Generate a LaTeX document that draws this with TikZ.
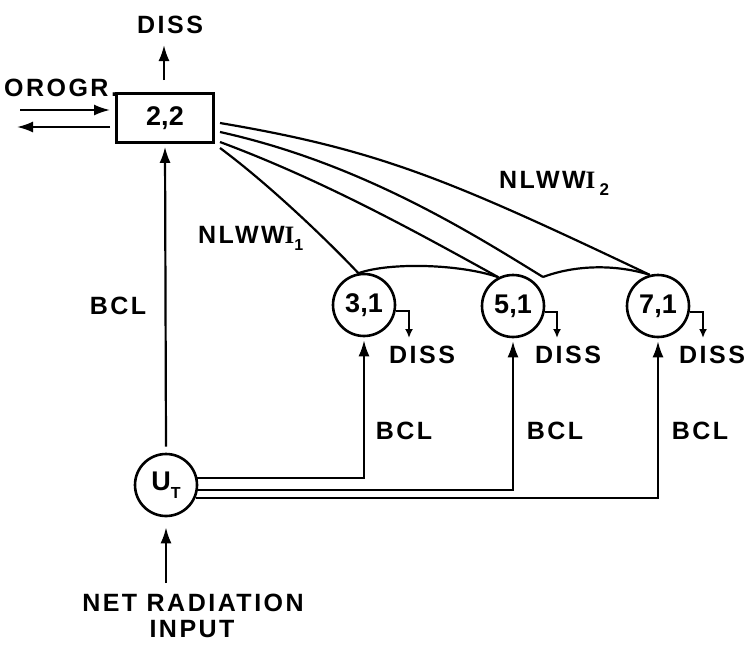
\documentclass[tikz,border=0pt]{standalone}
\usepackage{fontspec}
\setmainfont{Liberation Sans}
\newfontfamily\lbl[LetterSpace=10]{Liberation Sans}
\newfontfamily\lblI{Liberation Serif}
\usetikzlibrary{arrows.meta}
\begin{document}
\begin{tikzpicture}[x=1pt,y=-1pt,
  line width=2.2pt,
  big/.style={-{Latex[length=16pt,width=11pt]}},
  small/.style={-{Latex[length=9pt,width=8pt]}, line width=2pt},
  lab/.style={font=\lbl\bfseries\fontsize{25}{28}\selectfont, inner sep=0pt},
  num/.style={font=\bfseries\fontsize{27}{30}\selectfont, inner sep=0pt},
  circ/.style={circle, draw, minimum size=62pt, inner sep=0pt, line width=2.6pt},
]
\useasboundingbox (0,0) rectangle (746,646);
% nodes
\node[draw, line width=2.6pt, minimum width=97pt, minimum height=49pt, num] (b22) at (165,118) {2,2};
\node[circ, num] (c31) at (364,305) {3,1};
\node[circ, num] (c51) at (513,306) {5,1};
\node[circ, num] (c71) at (658,306) {7,1};
\node[circ, num] (ut) at (166,485) {U\raisebox{-0.3em}{\fontsize{16}{16}\selectfont T}};
% labels
\node[lab] (dtop) at (170,25) {DISS};
\node[lab] (oro) at (61,88) {OROGR.};
\node[lab] (bcl0) at (118,306) {BCL};
\node[lab, anchor=base west] (nl1) at (197,243) {NLWW{\lblI\bfseries I}\raisebox{-0.3em}{\fontsize{16}{16}\selectfont 1}};
\node[lab, anchor=base west] (nl2) at (498,188) {NLWW{\lblI\bfseries I}\,\raisebox{-0.3em}{\fontsize{17}{17}\selectfont 2}};
\node[lab] (d31) at (422,355) {DISS};
\node[lab] (d51) at (568,355) {DISS};
\node[lab] (d71) at (712,355) {DISS};
\node[lab] (bc31) at (404,431) {BCL};
\node[lab] (bc51) at (555,431) {BCL};
\node[lab] (bc71) at (700,431) {BCL};
\node[lab] (net) at (193,603) {NET RADIATION};
\node[lab] (inp) at (192,629) {INPUT};
% coordinates
\coordinate (dt0) at (164,80);
\coordinate (dt1) at (164,45);
\coordinate (o1s) at (20,110);
\coordinate (o1e) at (110,110);
\coordinate (o2s) at (110,127);
\coordinate (o2e) at (17,127);
\coordinate (s1) at (220,123);
\coordinate (s2) at (220,132);
\coordinate (s3) at (220,142);
\coordinate (s4) at (220,148);
\coordinate (j2) at (543,277);
\coordinate (nb) at (166,583);
\coordinate (e31) at (409,338);
\coordinate (e51) at (557,338);
\coordinate (e71) at (703,338);
% connectors
\draw[big] (dt0) -- (dt1);
\draw[big, line width=2pt] (o1s) -- (o1e);
\draw[big, line width=2pt] (o2s) -- (o2e);
\draw[big] ([yshift=6pt]ut.north) -- ([yshift=-3pt]b22.south);
\draw[big] (nb) -- ([yshift=-10pt]ut.south);
\draw (s1) .. controls (380,150) and (450,180) .. (c71.105);
\draw (s2) .. controls (360,163) and (470,232) .. (j2);
\draw (s3) .. controls (325,181) and (420,234) .. (c51.117);
\draw (s4) .. controls (270,185) and (330,243) .. (c31.100);
\draw (c31.100) .. controls (390,262) and (460,264) .. (c51.117);
\draw (j2) .. controls (575,265) and (615,264) .. (c71.105);
\draw[big, line width=2pt] (ut.13) -| ([yshift=-3pt]c31.south);
\draw[big, line width=2pt] (ut.-8) -| ([yshift=-3pt]c51.south);
\draw[big, line width=2pt] (ut.-24) -| ([yshift=-3pt]c71.south);
\draw[small] (c31.-11) -| (e31);
\draw[small] (c51.-11) -| (e51);
\draw[small] (c71.-11) -| (e71);
\end{tikzpicture}
\end{document}
